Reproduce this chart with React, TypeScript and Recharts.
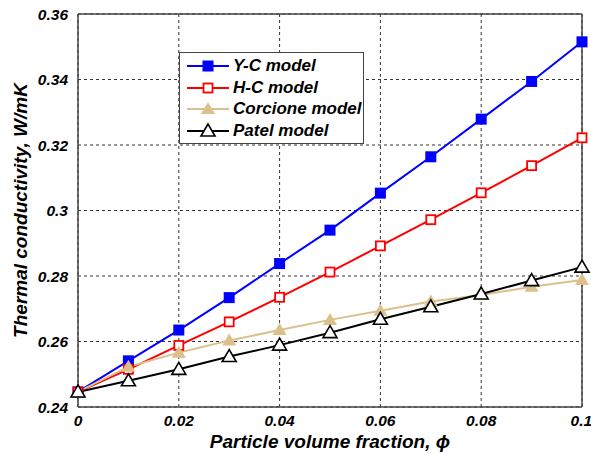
import {
  LineChart,
  Line,
  XAxis,
  YAxis,
  CartesianGrid,
  ReferenceLine,
} from "recharts";

const phi = [0, 0.01, 0.02, 0.03, 0.04, 0.05, 0.06, 0.07, 0.08, 0.09, 0.1];
const ycModel = [0.2446, 0.2541, 0.2635, 0.2734, 0.2838, 0.294, 0.3053, 0.3164, 0.3279, 0.3394, 0.3515];
const hcModel = [0.2446, 0.2515, 0.2588, 0.266, 0.2735, 0.2812, 0.2892, 0.2972, 0.3054, 0.3137, 0.3222];
const corcioneModel = [0.2446, 0.2523, 0.2566, 0.2603, 0.2635, 0.2666, 0.2694, 0.2722, 0.2742, 0.2767, 0.2788];
const patelModel = [0.2446, 0.248, 0.2515, 0.2554, 0.2589, 0.2627, 0.2668, 0.2706, 0.2745, 0.2786, 0.2827];

const xTicks = [0, 0.02, 0.04, 0.06, 0.08, 0.1];
const yTicks = [0.24, 0.26, 0.28, 0.3, 0.32, 0.34, 0.36];

const data = phi.map((p, i) => ({
  phi: p,
  yc: ycModel[i],
  hc: hcModel[i],
  corcione: corcioneModel[i],
  patel: patelModel[i],
}));

const font = "'Liberation Sans', Arial, sans-serif";

type Marker = "filledSquare" | "openSquare" | "filledTriangle" | "openTriangle";

const series: { key: string; name: string; color: string; marker: Marker }[] = [
  { key: "yc", name: "Y-C model", color: "#0000ff", marker: "filledSquare" },
  { key: "hc", name: "H-C model", color: "#ff0000", marker: "openSquare" },
  { key: "corcione", name: "Corcione model", color: "#dcc08c", marker: "filledTriangle" },
  { key: "patel", name: "Patel model", color: "#000000", marker: "openTriangle" },
];

function markerShape(kind: Marker, color: string, cx: number, cy: number, key?: string | number) {
  if (kind === "filledSquare")
    return <rect key={key} x={cx - 5.5} y={cy - 5.5} width={11} height={11} fill={color} />;
  if (kind === "openSquare")
    return (
      <rect key={key} x={cx - 4.5} y={cy - 4.5} width={9} height={9} fill="#fff" stroke={color} strokeWidth={1.8} />
    );
  const pts = `${cx},${cy - 7} ${cx - 7},${cy + 5} ${cx + 7},${cy + 5}`;
  if (kind === "filledTriangle") return <polygon key={key} points={pts} fill={color} />;
  return <polygon key={key} points={pts} fill="#fff" stroke={color} strokeWidth={1.6} />;
}

function LegendBox() {
  return (
    <div
      style={{
        position: "absolute",
        left: 179,
        top: 52,
        width: 185,
        height: 92,
        border: "1.5px solid #444",
        background: "#fff",
        boxSizing: "border-box",
        paddingTop: 2,
      }}
    >
      {series.map((s) => (
        <div key={s.key} style={{ display: "flex", alignItems: "center", height: 21.7 }}>
          <svg width={48} height={20} style={{ marginLeft: 5 }}>
            <line x1={2} y1={10} x2={44} y2={10} stroke={s.color} strokeWidth={2} />
            {markerShape(s.marker, s.color, 23, 10)}
          </svg>
          <span
            style={{
              fontFamily: font,
              fontWeight: "bold",
              fontStyle: "italic",
              fontSize: 17,
              color: "#000",
              whiteSpace: "nowrap",
            }}
          >
            {s.name}
          </span>
        </div>
      ))}
    </div>
  );
}

const tickStyle = {
  fontFamily: font,
  fontWeight: "bold",
  fontStyle: "italic",
  fontSize: 15.5,
  fill: "#000",
};

const fmt = (v: number) => String(v);

export default function App() {
  return (
    <div style={{ position: "absolute", left: 0, top: 0, width: 591, height: 455, background: "#fff" }}>
      <LineChart width={591} height={455} data={data} margin={{ top: 14, right: 9, bottom: 0, left: 0 }}>
        <CartesianGrid strokeDasharray="3 3" stroke="#333" />
        <XAxis
          dataKey="phi"
          type="number"
          domain={[0, 0.1]}
          ticks={xTicks}
          tickFormatter={fmt}
          tickLine={false}
          axisLine={{ stroke: "#444", strokeWidth: 1.5 }}
          tick={tickStyle}
          tickMargin={2}
          height={48}
          label={{
            value: "Particle volume fraction, \u03d5",
            position: "insideBottom",
            offset: 7,
            style: { ...tickStyle, fontSize: 19 },
          }}
        />
        <YAxis
          type="number"
          domain={[0.24, 0.36]}
          ticks={yTicks}
          tickFormatter={fmt}
          tickLine={false}
          axisLine={{ stroke: "#444", strokeWidth: 1.5 }}
          tick={tickStyle}
          tickMargin={4}
          width={78}
          label={{
            value: "Thermal conductivity, W/mK",
            angle: -90,
            position: "insideLeft",
            offset: 20,
            style: { ...tickStyle, fontSize: 19, textAnchor: "middle" },
          }}
        />
        <ReferenceLine y={0.36} stroke="#444" strokeWidth={1.5} />
        <ReferenceLine x={0.1} stroke="#444" strokeWidth={1.5} />
        {series.map((s) => (
          <Line
            key={s.key}
            dataKey={s.key}
            name={s.name}
            type="linear"
            stroke={s.color}
            strokeWidth={2}
            isAnimationActive={false}
            dot={(p: any) => markerShape(s.marker, s.color, p.cx, p.cy, `${s.key}-${p.index}`)}
            activeDot={false}
          />
        ))}
      </LineChart>
      <LegendBox />
    </div>
  );
}
